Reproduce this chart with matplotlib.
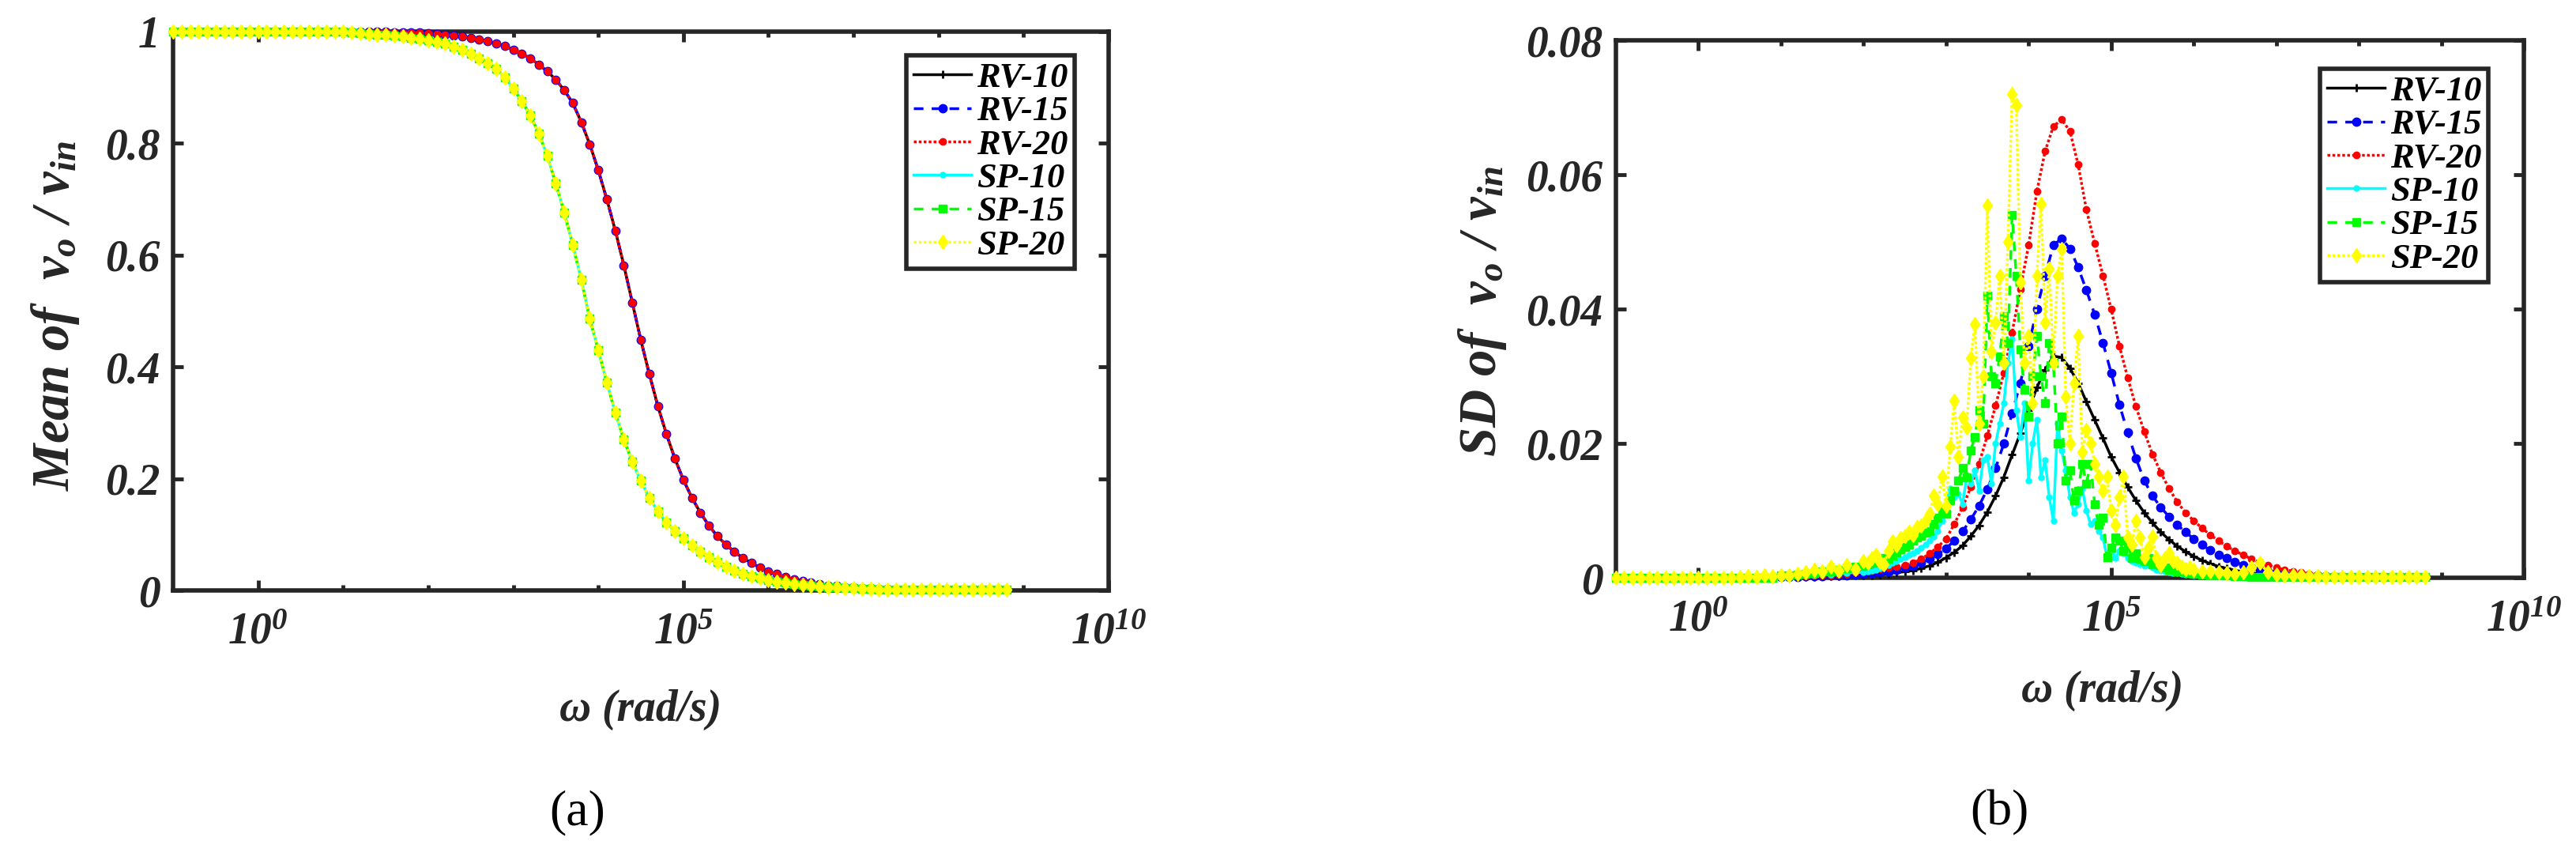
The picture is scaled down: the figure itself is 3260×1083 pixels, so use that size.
import numpy as np
import matplotlib
matplotlib.use("Agg")
import matplotlib.pyplot as plt
from matplotlib.ticker import FixedLocator, NullFormatter

# ---------------- data ----------------
series_names = ["RV-10", "RV-15", "RV-20", "SP-10", "SP-15", "SP-20"]

# sampling grid (log10 of omega), 0.1 decade
log_w = np.round(np.linspace(-1.0, 8.8, 99), 2)
# finer sampling used for the noisy SP standard deviations
log_w_sp = np.round(np.concatenate([np.linspace(-1.0, 1.9, 30),
                                    np.linspace(2.0, 5.95, 80),
                                    np.linspace(6.0, 8.8, 29)]), 3)

# panel (a): mean of vo/vin
mean_rv = [1.0] * 26 + [
    0.999, 0.999, 0.998, 0.998, 0.997, 0.996, 0.995, 0.993, 0.991, 0.989,
    0.986, 0.983, 0.979, 0.974, 0.968, 0.961, 0.952, 0.941, 0.929, 0.914,
    0.895, 0.872, 0.838, 0.798, 0.752, 0.700, 0.644, 0.582, 0.515, 0.448,
    0.387, 0.330, 0.280, 0.236, 0.198, 0.166, 0.139, 0.116, 0.097, 0.082,
    0.069, 0.058, 0.049, 0.041, 0.034, 0.029, 0.024, 0.020, 0.017, 0.014,
    0.011, 0.009, 0.008, 0.006, 0.005, 0.004, 0.004, 0.003, 0.003, 0.002,
    0.002, 0.002, 0.001, 0.001, 0.001, 0.001, 0.001, 0.001, 0.001, 0.001,
    0.001, 0.001, 0.001]
mean_sp = [1.0] * 21 + [
    0.998, 0.997, 0.996, 0.995, 0.994, 0.993, 0.991, 0.989, 0.987, 0.985,
    0.982, 0.979, 0.973, 0.967, 0.960, 0.952, 0.943, 0.934, 0.918, 0.898,
    0.876, 0.850, 0.818, 0.778, 0.728, 0.676, 0.618, 0.556, 0.486, 0.430,
    0.372, 0.318, 0.270, 0.230, 0.196, 0.166, 0.141, 0.122, 0.106, 0.093,
    0.081, 0.070, 0.060, 0.051, 0.043, 0.036, 0.030, 0.026, 0.022, 0.019,
    0.016, 0.014, 0.012, 0.010, 0.008, 0.007, 0.006, 0.005, 0.004, 0.004,
    0.003, 0.003, 0.002, 0.002, 0.002, 0.001] + [0.001] * 12

# panel (b): standard deviation of vo/vin
sd_rv10 = [0.0] * 20 + [
    0.0000, 0.0001, 0.0001, 0.0001, 0.0001, 0.0002, 0.0002, 0.0002, 0.0003, 0.0003,
    0.0004, 0.0004, 0.0005, 0.0006, 0.0008, 0.0009, 0.0011, 0.0014, 0.0018, 0.0023,
    0.0030, 0.0038, 0.0048, 0.0062, 0.0078, 0.0098, 0.0122, 0.0150, 0.0183, 0.0215,
    0.0250, 0.0283, 0.0310, 0.0330, 0.0328, 0.0312, 0.0290, 0.0262, 0.0235, 0.0208,
    0.0180, 0.0157, 0.0135, 0.0115, 0.0097, 0.0082, 0.0068, 0.0057, 0.0047, 0.0039,
    0.0032, 0.0026, 0.0021, 0.0017, 0.0014, 0.0011, 0.0009, 0.0007, 0.0006, 0.0005,
    0.0004, 0.0003, 0.0003, 0.0002, 0.0002, 0.0002, 0.0001] + [0.0001] * 12
sd_rv15 = [0.0] * 20 + [
    0.0001, 0.0001, 0.0001, 0.0002, 0.0002, 0.0002, 0.0003, 0.0003, 0.0004, 0.0005,
    0.0006, 0.0007, 0.0008, 0.0010, 0.0012, 0.0015, 0.0018, 0.0022, 0.0028, 0.0035,
    0.0044, 0.0055, 0.0069, 0.0087, 0.0107, 0.0132, 0.0163, 0.0200, 0.0245, 0.0290,
    0.0345, 0.0400, 0.0450, 0.0495, 0.0505, 0.0490, 0.0462, 0.0428, 0.0392, 0.0350,
    0.0305, 0.0258, 0.0216, 0.0178, 0.0145, 0.0122, 0.0105, 0.0091, 0.0079, 0.0068,
    0.0058, 0.0049, 0.0041, 0.0034, 0.0029, 0.0024, 0.0019, 0.0015, 0.0012, 0.0010,
    0.0008, 0.0006, 0.0005, 0.0004, 0.0003, 0.0003, 0.0002] + [0.0001] * 12
sd_rv20 = [0.0] * 20 + [
    0.0001, 0.0001, 0.0002, 0.0002, 0.0003, 0.0003, 0.0004, 0.0005, 0.0006, 0.0008,
    0.0009, 0.0011, 0.0013, 0.0015, 0.0017, 0.0019, 0.0022, 0.0028, 0.0036, 0.0046,
    0.0058, 0.0080, 0.0105, 0.0135, 0.0170, 0.0212, 0.0256, 0.0305, 0.0365, 0.0430,
    0.0495, 0.0575, 0.0635, 0.0672, 0.0682, 0.0665, 0.0615, 0.0548, 0.0498, 0.0450,
    0.0400, 0.0345, 0.0298, 0.0255, 0.0218, 0.0184, 0.0157, 0.0133, 0.0113, 0.0097,
    0.0085, 0.0074, 0.0064, 0.0055, 0.0047, 0.0040, 0.0034, 0.0028, 0.0023, 0.0019,
    0.0015, 0.0012, 0.0010, 0.0008, 0.0006, 0.0005, 0.0004, 0.0003, 0.0003, 0.0002,
    0.0002] + [0.0001] * 8

sd_sp10 = [0.0] * 20 + [
    0.0002, 0.0002, 0.0003, 0.0003, 0.0004, 0.0005, 0.0005, 0.0006, 0.0007, 0.0008,
    # fine part 2.00 .. 5.95
    0.0008, 0.0009, 0.0011, 0.0012, 0.0014, 0.0016, 0.0019, 0.0022, 0.0025, 0.0028,
    0.0031, 0.0034, 0.0037, 0.0040, 0.0045, 0.0050, 0.0055, 0.0061, 0.0070, 0.0085,
    0.0110, 0.0133, 0.0120, 0.0125, 0.0110, 0.0150, 0.0140, 0.0160, 0.0130, 0.0175,
    0.0180, 0.0140, 0.0200, 0.0230, 0.0260, 0.0320, 0.0355, 0.0250, 0.0210, 0.0260,
    0.0145, 0.0200, 0.0235, 0.0150, 0.0175, 0.0120, 0.0085, 0.0230, 0.0190, 0.0160,
    0.0120, 0.0097, 0.0110, 0.0133, 0.0100, 0.0080, 0.0085, 0.0070, 0.0060, 0.0031,
    0.0045, 0.0030, 0.0040, 0.0037, 0.0030, 0.0025, 0.0022, 0.0020, 0.0018, 0.0019,
    0.0015, 0.0012, 0.0011, 0.0009, 0.0008, 0.0007, 0.0007, 0.0006, 0.0005, 0.0005,
    # tail 6.0 .. 8.8
    0.0004, 0.0003, 0.0003, 0.0002, 0.0002, 0.0001] + [0.0001] * 23
sd_sp15 = [0.0] * 20 + [
    0.0003, 0.0004, 0.0005, 0.0006, 0.0007, 0.0009, 0.0010, 0.0012, 0.0014, 0.0016,
    0.0018, 0.0020, 0.0022, 0.0025, 0.0022, 0.0030, 0.0028, 0.0033, 0.0038, 0.0042,
    0.0046, 0.0049, 0.0055, 0.0060, 0.0062, 0.0067, 0.0070, 0.0080, 0.0090, 0.0100,
    0.0095, 0.0115, 0.0130, 0.0145, 0.0163, 0.0150, 0.0190, 0.0210, 0.0250, 0.0230,
    0.0420, 0.0300, 0.0290, 0.0330, 0.0390, 0.0350, 0.0540, 0.0450, 0.0340, 0.0280,
    0.0240, 0.0300, 0.0360, 0.0300, 0.0260, 0.0350, 0.0320, 0.0200, 0.0240, 0.0145,
    0.0160, 0.0115, 0.0130, 0.0170, 0.0140, 0.0170, 0.0110, 0.0079, 0.0090, 0.0031,
    0.0045, 0.0060, 0.0055, 0.0040, 0.0050, 0.0030, 0.0037, 0.0028, 0.0025, 0.0030,
    0.0020, 0.0022, 0.0019, 0.0015, 0.0012, 0.0014, 0.0010, 0.0009, 0.0008, 0.0007,
    0.0006, 0.0005, 0.0004, 0.0003, 0.0003, 0.0002, 0.0002] + [0.0001] * 22
sd_sp20 = [0.0] * 15 + [
    0.0001, 0.0002, 0.0001, 0.0003, 0.0002, 0.0004, 0.0003, 0.0006, 0.0008, 0.0012,
    0.0009, 0.0016, 0.0011, 0.0019, 0.0013,
    0.0025, 0.0022, 0.0030, 0.0034, 0.0024, 0.0020, 0.0040, 0.0054, 0.0048, 0.0059,
    0.0062, 0.0068, 0.0064, 0.0075, 0.0078, 0.0085, 0.0095, 0.0122, 0.0110, 0.0151,
    0.0107, 0.0195, 0.0263, 0.0180, 0.0239, 0.0224, 0.0327, 0.0378, 0.0229, 0.0300,
    0.0554, 0.0337, 0.0380, 0.0449, 0.0320, 0.0500, 0.0720, 0.0704, 0.0440, 0.0320,
    0.0360, 0.0260, 0.0450, 0.0557, 0.0380, 0.0460, 0.0320, 0.0450, 0.0490, 0.0270,
    0.0200, 0.0290, 0.0360, 0.0187, 0.0220, 0.0200, 0.0170, 0.0151, 0.0130, 0.0151,
    0.0100, 0.0079, 0.0120, 0.0151, 0.0060, 0.0049, 0.0085, 0.0060, 0.0031, 0.0045,
    0.0061, 0.0030, 0.0019, 0.0030, 0.0037, 0.0025, 0.0022, 0.0016, 0.0013, 0.0015,
    0.0012, 0.0010, 0.0009, 0.0008, 0.0007, 0.0006, 0.0008, 0.0015, 0.0022, 0.0008,
    0.0005, 0.0004, 0.0003, 0.0003, 0.0002, 0.0002] + [0.0001] * 13

mean_data = [mean_rv, mean_rv, mean_rv, mean_sp, mean_sp, mean_sp]
sd_data = [sd_rv10, sd_rv15, sd_rv20, sd_sp10, sd_sp15, sd_sp20]
sd_x = [log_w, log_w, log_w, log_w_sp, log_w_sp, log_w_sp]

xtick_labels = ["$10^{0}$", "$10^{5}$", "$10^{10}$"]
ytick_a = ["0", "0.2", "0.4", "0.6", "0.8", "1"]
ytick_b = ["0", "0.02", "0.04", "0.06", "0.08"]

# ---------------- styles ----------------
styles = [
    dict(color="k", ls="-", marker="+", ms=7, mew=2.0),
    dict(color="#0000FF", ls=(0, (3.5, 3.0)), marker="o", ms=7.5),
    dict(color="#FF0000", ls=(0, (1.0, 0.8)), marker="o", ms=6),
    dict(color="#00FFFF", ls="-", marker="o", ms=5),
    dict(color="#00FF00", ls=(0, (3.5, 3.0)), marker="s", ms=7),
    dict(color="#FFFF00", ls=(0, (1.0, 0.8)), marker="d", ms=9.5),
]

plt.rcParams["font.family"] = ["Liberation Serif", "DejaVu Serif"]
plt.rcParams["mathtext.fontset"] = "custom"
plt.rcParams["mathtext.rm"] = "Liberation Serif:weight=bold:style=italic"
plt.rcParams["mathtext.it"] = "Liberation Serif:weight=bold:style=italic"
plt.rcParams["mathtext.bf"] = "Liberation Serif:weight=bold:style=italic"
plt.rcParams["legend.numpoints"] = 1

W, H = 3260, 1083
fig = plt.figure(figsize=(W / 100, H / 100), dpi=100)
AX_COL = "#262626"


def px(x, y):
    return x / W, 1 - y / H


def make_axes(l, t, r, b):
    return fig.add_axes([l / W, 1 - b / H, (r - l) / W, (b - t) / H])


def style_axes(ax, ylim, yticks, ylabels):
    ax.set_xscale("log")
    ax.set_xlim(1e-1, 1e10)
    ax.set_ylim(*ylim)
    ax.xaxis.set_major_locator(FixedLocator([1e0, 1e5, 1e10]))
    ax.set_xticklabels(xtick_labels)
    ax.xaxis.set_minor_locator(FixedLocator([10.0 ** k for k in [1, 2, 3, 4, 6, 7, 8, 9]]))
    ax.xaxis.set_minor_formatter(NullFormatter())
    ax.yaxis.set_major_locator(FixedLocator(yticks))
    ax.set_yticklabels(ylabels)
    ax.tick_params(which="both", direction="in", top=True, right=True,
                   color=AX_COL, labelcolor=AX_COL, width=3.5)
    ax.tick_params(which="major", length=9.5, labelsize=40)
    ax.tick_params(which="minor", length=5)
    ax.tick_params(axis="x", which="major", pad=20)
    ax.tick_params(axis="y", which="major", pad=12)
    for lab in ax.get_yticklabels():
        lab.set_fontweight("bold")
        lab.set_fontstyle("italic")
    for s in ax.spines.values():
        s.set_linewidth(4)
        s.set_color(AX_COL)
        s.set_zorder(2.5)


def add_legend(ax, x0, y1):
    leg = ax.legend(loc="upper left", bbox_to_anchor=(x0, y1), bbox_transform=ax.transAxes,
                    borderaxespad=0, handlelength=1.65, handletextpad=0.15,
                    labelspacing=0.05, borderpad=0.2, frameon=True, fancybox=False,
                    edgecolor=AX_COL, framealpha=1,
                    prop=dict(family="Liberation Serif", weight="bold", style="italic", size=32))
    leg.get_frame().set_linewidth(4)
    return leg


# ---------------- panel (a) ----------------
axa = make_axes(219, 40, 1403, 747)
for name, y, st in zip(series_names, mean_data, styles):
    axa.plot(10.0 ** log_w, y, label=name, lw=2.5, mfc=st["color"], mec=st["color"],
             clip_on=False, zorder=3, **st)
style_axes(axa, (0, 1), [0, 0.2, 0.4, 0.6, 0.8, 1.0], ytick_a)
add_legend(axa, (1147 - 219) / 1184, (747 - 70) / 707)

# ---------------- panel (b) ----------------
axb = make_axes(2045, 51, 3194, 731)
for name, xx, y, st in zip(series_names, sd_x, sd_data, styles):
    axb.plot(10.0 ** np.asarray(xx), y, label=name, lw=2.5, mfc=st["color"], mec=st["color"],
             clip_on=False, zorder=3, **st)
style_axes(axb, (0, 0.08), [0, 0.02, 0.04, 0.06, 0.08], ytick_b)
add_legend(axb, (2936 - 2045) / 1149, (731 - 87) / 680)

# ---------------- labels ----------------
lab_kw = dict(color=AX_COL, fontsize=48, rotation=90, ha="center", va="center")
fig.text(*px(70, 399), r"$Mean\ of\ \ v_o\ /\ v_{in}$", **lab_kw)
fig.text(*px(1876, 394), r"$SD\ of\ \ v_o\ /\ v_{in}$", **lab_kw)

xl_kw = dict(color=AX_COL, fontsize=40, fontweight="bold", fontstyle="italic",
             ha="center", va="center")
fig.text(*px(811, 898), "\u03c9 (rad/s)", **xl_kw)
fig.text(*px(2661, 874), "\u03c9 (rad/s)", **xl_kw)

cap_kw = dict(color="black", fontsize=46, ha="center", va="center",
              family="Liberation Serif", fontweight="normal", fontstyle="normal")
fig.text(*px(731, 1028), "(a)", **cap_kw)
fig.text(*px(2530, 1028), "(b)", **cap_kw)

fig.savefig("out.png", dpi=100)
